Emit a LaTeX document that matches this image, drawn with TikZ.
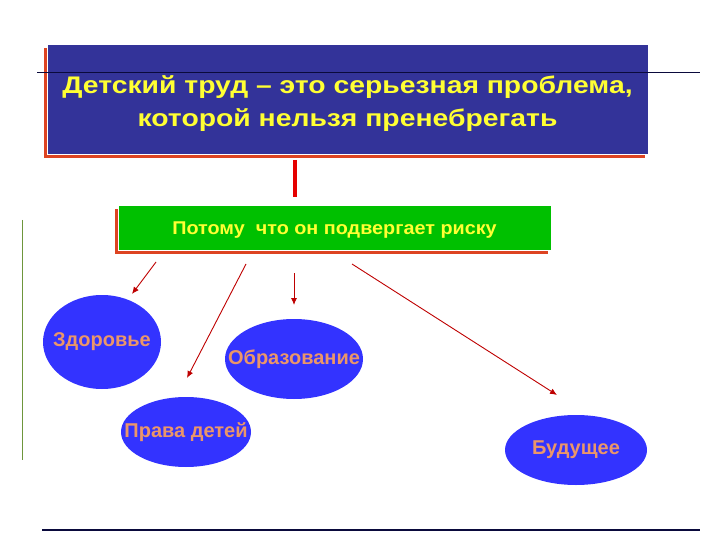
\documentclass[tikz,border=0pt]{standalone}
\usepackage{fontspec}
\usepackage{graphicx}
\setmainfont{Liberation Sans}
\usetikzlibrary{shapes.geometric}
\usetikzlibrary{arrows.meta}
\usetikzlibrary{shadows}
\definecolor{titelblau}{RGB}{51,51,153}
\definecolor{schatten}{RGB}{221,68,34}
\definecolor{kastengruen}{RGB}{0,192,0}
\definecolor{schrift}{RGB}{255,255,51}
\definecolor{kreisblau}{RGB}{51,51,255}
\definecolor{lachs}{RGB}{235,150,105}
\definecolor{pfeilrot}{RGB}{190,0,0}
\definecolor{linie}{RGB}{10,10,60}
\definecolor{randgruen}{RGB}{110,150,60}

\begin{document}
\begin{tikzpicture}[x=1pt, y=-1pt,
    kasten/.style={draw=white, line width=0.8pt, inner sep=0pt, align=center, text=schrift,
                   drop shadow={shadow xshift=-3pt, shadow yshift=-4pt, fill=schatten, opacity=1}},
    thema/.style={ellipse, fill=kreisblau, inner sep=0pt, text=lachs,
                  font=\bfseries\fontsize{20}{22}\selectfont},
    pfeil/.style={draw=pfeilrot, line width=0.9pt, -{Latex[length=7pt,width=6pt]}}]

    \useasboundingbox (0,0) rectangle (720,540);

    % Kaesten
    \node[kasten, fill=titelblau, minimum width=601pt, minimum height=110pt,
          font=\bfseries\fontsize{24}{33}\selectfont] (titel) at (347.5,99.5)
          {\raisebox{-3.5pt}[\height][\depth]{\scalebox{1.18}[1]{\begin{tabular}{@{}c@{}}Детский труд – это серьезная проблема,\\которой нельзя пренебрегать\end{tabular}}}};
    \node[kasten, fill=kastengruen, minimum width=433pt, minimum height=45pt,
          font=\bfseries\fontsize{18.5}{20}\selectfont] (grund) at (334.5,227.5)
          {\raisebox{-3pt}[\height][\depth]{\scalebox{1.07}[1]{Потому\ \ что он подвергает риску}}};

    % Linien
    \draw[linie, line width=0.9pt] (37,72) -- (700,72);
    \draw[linie, line width=1.3pt] (42,530) -- (700,530);
    \draw[randgruen, line width=0.9pt] (22,220) -- (22,460);

    \coordinate (v1) at (295,160);
    \coordinate (v2) at (295,197);
    \draw[red!90!black, line width=3.5pt] (v1) -- (v2);

    % Themen
    \node[thema, minimum width=118pt, minimum height=94pt] (gesund) at (102,342) {\makebox[0pt]{Здоровье}};
    \node[thema, minimum width=138pt, minimum height=80pt] (bildung) at (294,359) {\makebox[0pt]{Образование}};
    \node[thema, minimum width=130pt, minimum height=70pt] (rechte) at (186,432) {\makebox[0pt]{Права детей}};
    \node[thema, minimum width=142pt, minimum height=70pt] (zukunft) at (576,450) {\makebox[0pt]{Будущее}};

    % Pfeile
    \coordinate (a1) at (156,262);  \coordinate (e1) at (132,294);
    \coordinate (a2) at (246,264);  \coordinate (e2) at (187,378);
    \coordinate (a3) at (294,273);  \coordinate (e3) at (294,305);
    \coordinate (a4) at (352,264);  \coordinate (e4) at (557,395);
    \draw[pfeil] (a1) -- (e1);
    \draw[pfeil] (a2) -- (e2);
    \draw[pfeil] (a3) -- (e3);
    \draw[pfeil] (a4) -- (e4);

\end{tikzpicture}
\end{document}
